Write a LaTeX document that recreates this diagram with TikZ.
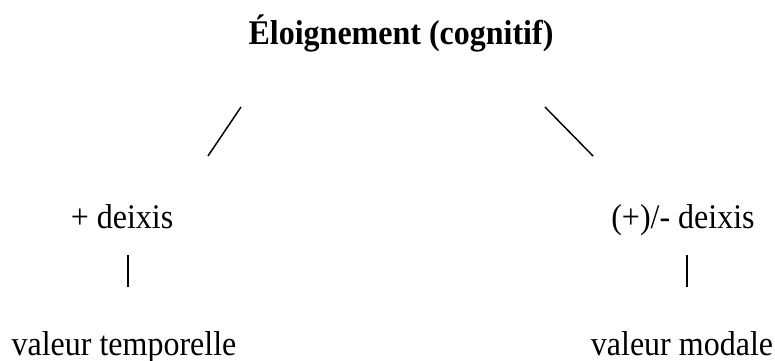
\documentclass[tikz,border=0pt]{standalone}
\usepackage{fontspec}
\setmainfont{Liberation Serif}
\usepackage{graphicx}
\usepackage{tikz}
\usetikzlibrary{positioning}
\newcommand{\alto}[1]{\scalebox{1}[1.08]{#1}}
\tikzstyle{etiqueta} = [inner sep=0pt,anchor=base,font=\fontsize{12}{14}\selectfont]
\tikzstyle{titulo} = [etiqueta,font=\fontsize{12}{14}\selectfont\bfseries]
\tikzstyle{rama} = [line width=0.55pt]
\tikzstyle{barra} = [line width=0.4pt]

\begin{document}
\begin{tikzpicture}[x=0.375pt,y=-0.375pt]
	\useasboundingbox (0,0) rectangle (775,360);
	% el titulo
	\node[titulo] (eloignement) at (401,44) {\alto{Éloignement (cognitif)}};
	% las dos ramas
	\node[etiqueta] (deixis) at (122,228) {\alto{+ deixis}};
	\node[etiqueta] (deixismod) at (683,228) {\alto{(+)/- deixis}};
	\node[etiqueta] (temporelle) at (124,355) {\alto{valeur temporelle}};
	\node[etiqueta] (modale) at (682,355) {\alto{valeur modale}};
	% extremos de los trazos
	\coordinate (ramaiz1) at (241,107);
	\coordinate (ramaiz2) at (208,156);
	\coordinate (ramade1) at (545,107);
	\coordinate (ramade2) at (593,156);
	\foreach \Xc/\Nombre in {128/iz,687/de}
	{
		\coordinate (barra\Nombre1) at (\Xc,255);
		\coordinate (barra\Nombre2) at (\Xc,287);
	}
	\draw[rama] (ramaiz1) -- (ramaiz2);
	\draw[rama] (ramade1) -- (ramade2);
	\foreach \Nombre in {iz,de}
	{
		\draw[barra] (barra\Nombre1) -- (barra\Nombre2);
	}
\end{tikzpicture}
\end{document}
